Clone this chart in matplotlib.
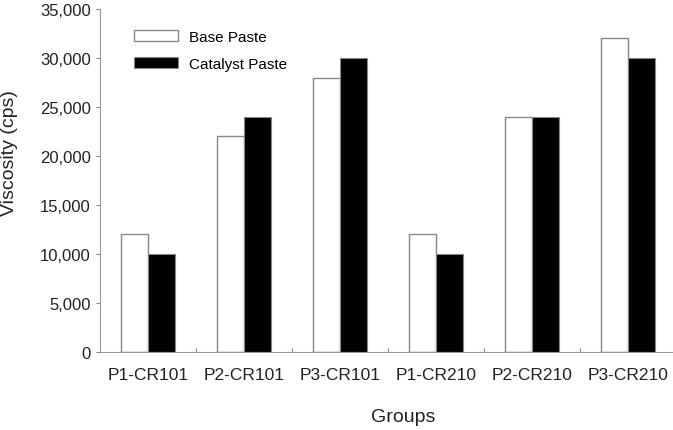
import matplotlib.pyplot as plt
import numpy as np

plt.rcParams['font.family'] = ['Liberation Sans', 'DejaVu Sans']

groups = ['P1-CR101', 'P2-CR101', 'P3-CR101', 'P1-CR210', 'P2-CR210', 'P3-CR210']
base_paste = [12000, 22000, 28000, 12000, 24000, 32000]
catalyst_paste = [10000, 24000, 30000, 10000, 24000, 30000]

fig = plt.figure(figsize=(6.73, 4.31), dpi=100)
ax = fig.add_axes([100 / 673, 78.3 / 431, 576 / 673, 342.7 / 431])

x = np.arange(len(groups)) + 0.5
w = 0.285
ax.bar(x - w / 2, base_paste, w, color='white', edgecolor='#888888', linewidth=1.0,
       label='Base Paste')
ax.bar(x + w / 2, catalyst_paste, w, color='black', edgecolor='#888888', linewidth=0.8,
       label='Catalyst Paste')

ax.set_xlim(0, 6)
ax.set_ylim(0, 35000)
ax.set_yticks(np.arange(0, 35001, 5000))
ax.set_yticklabels(['{:,}'.format(v) for v in range(0, 35001, 5000)])
ax.set_xticks(x)
ax.set_xticklabels(groups)
ax.set_xticks(np.arange(1, 6), minor=True)
ax.tick_params(axis='x', which='major', length=0, pad=11, labelsize=12.5, labelcolor='#222222')
ax.tick_params(axis='x', which='minor', direction='in', length=3, color='#666666')
ax.tick_params(axis='y', length=3, color='#888888', labelsize=12, labelcolor='#222222')

for s in ['top', 'right']:
    ax.spines[s].set_visible(False)
for s in ['left', 'bottom']:
    ax.spines[s].set_color('#999999')

ax.set_ylabel('Viscosity (cps)', fontsize=14, color='#222222')
ax.yaxis.set_label_coords(-0.142, 0.583)
ax.set_xlabel('Groups', fontsize=14, color='#222222')
ax.xaxis.set_label_coords(0.526, -0.165)

ax.legend(loc='upper left', bbox_to_anchor=(0.035, 0.98), frameon=False, fontsize=11,
          handlelength=2.9, handleheight=0.75, handletextpad=0.7, labelspacing=0.85)

fig.savefig('out.png', dpi=100)
